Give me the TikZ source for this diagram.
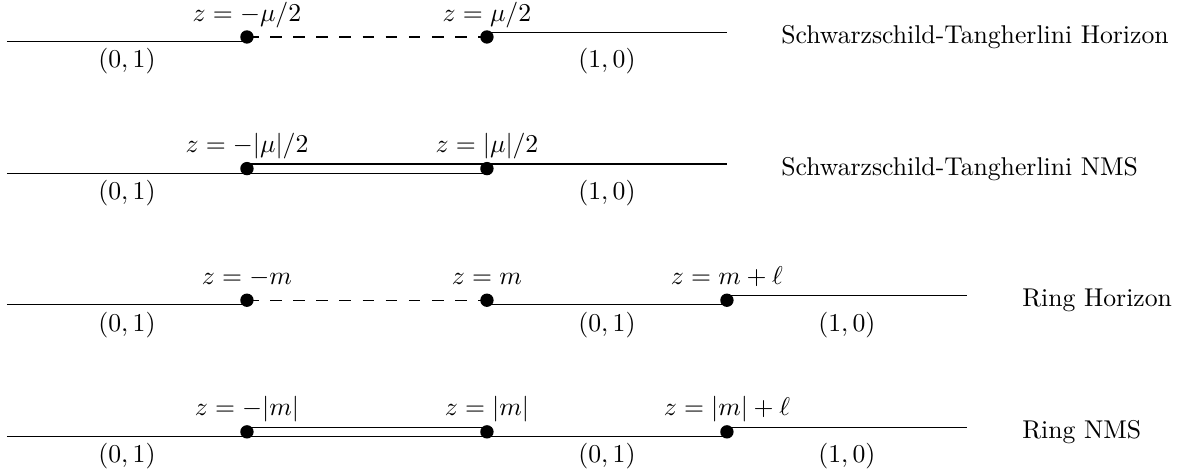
\documentclass[tikz,border=0pt]{standalone}
\usepackage{amsmath}
\usepackage{amssymb}
\usepackage{tikz}
\usetikzlibrary{positioning, calc}
\tikzset{
  rodline/.style={line width=0.5pt},
  horizonline/.style={line width=0.5pt, dash pattern=on 4.5pt off 4.5pt},
  dotpt/.style={circle, fill=black, inner sep=0pt, minimum size=5.2pt},
  zlabel/.style={anchor=base, yshift=6.2pt, inner sep=0pt},
  rodlabel/.style={anchor=base, yshift=-12pt, inner sep=0pt},
  casename/.style={anchor=west}
}
% rods sit a little below (0,1) or above (1,0) the axis
\newcommand{\lowrod}[2]{\draw[rodline] ([yshift=-1.8pt]#1) -- ([yshift=-1.8pt]#2);}
\newcommand{\uprod}[2]{\draw[rodline] ([yshift=1.8pt]#1) -- ([yshift=1.8pt]#2);}

\begin{document}
\begin{tikzpicture}[x=3.282cm, y=1.8cm]
    \useasboundingbox (-1.029,0.281) rectangle (3.892,-3.327);

    % ==========================================
    % 1. Schwarzschild-Tangherlini Horizon
    % ==========================================
    \coordinate (e1) at (-1,0);
    \coordinate (a1) at (0,0);
    \coordinate (b1) at (1,0);
    \coordinate (f1) at (2,0);
    \lowrod{e1}{a1}
    \draw[horizonline] (a1) -- (b1);
    \uprod{b1}{f1}
    \node[dotpt] (da1) at (a1) {};
    \node[dotpt] (db1) at (b1) {};
    \node[zlabel] (za1) at (a1) {$z=-\mu/2$};
    \node[zlabel] (zb1) at (b1) {$z=\mu/2$};
    \node[rodlabel] (ra1) at ($(e1)!0.5!(a1)$) {$(0,1)$};
    \node[rodlabel] (rb1) at ($(b1)!0.5!(f1)$) {$(1,0)$};
    \node[casename] (n1) at (2.189,0) {Schwarzschild-Tangherlini Horizon};

    % ==========================================
    % 2. Schwarzschild-Tangherlini NMS
    % ==========================================
    \coordinate (e2) at (-1,-1);
    \coordinate (a2) at (0,-1);
    \coordinate (b2) at (1,-1);
    \coordinate (f2) at (2,-1);
    \lowrod{e2}{b2}
    \uprod{a2}{f2}
    \node[dotpt] (da2) at (a2) {};
    \node[dotpt] (db2) at (b2) {};
    \node[zlabel] (za2) at (a2) {$z=-|\mu|/2$};
    \node[zlabel] (zb2) at (b2) {$z=|\mu|/2$};
    \node[rodlabel] (ra2) at ($(e2)!0.5!(a2)$) {$(0,1)$};
    \node[rodlabel] (rb2) at ($(b2)!0.5!(f2)$) {$(1,0)$};
    \node[casename] (n2) at (2.189,-1) {Schwarzschild-Tangherlini NMS};

    % ==========================================
    % 3. Ring Horizon
    % ==========================================
    \coordinate (e3) at (-1,-2);
    \coordinate (a3) at (0,-2);
    \coordinate (b3) at (1,-2);
    \coordinate (c3) at (2,-2);
    \coordinate (f3) at (3,-2);
    \lowrod{e3}{a3}
    \draw[horizonline] (a3) -- (b3);
    \lowrod{b3}{c3}
    \uprod{c3}{f3}
    \node[dotpt] (da3) at (a3) {};
    \node[dotpt] (db3) at (b3) {};
    \node[dotpt] (dc3) at (c3) {};
    \node[zlabel] (za3) at (a3) {$z=-m$};
    \node[zlabel] (zb3) at (b3) {$z=m$};
    \node[zlabel] (zc3) at (c3) {$z=m+\ell$};
    \node[rodlabel] (ra3) at ($(e3)!0.5!(a3)$) {$(0,1)$};
    \node[rodlabel] (rb3) at ($(b3)!0.5!(c3)$) {$(0,1)$};
    \node[rodlabel] (rc3) at ($(c3)!0.5!(f3)$) {$(1,0)$};
    \node[casename] (n3) at (3.193,-2) {Ring Horizon};

    % ==========================================
    % 4. Ring NMS
    % ==========================================
    \coordinate (e4) at (-1,-3);
    \coordinate (a4) at (0,-3);
    \coordinate (b4) at (1,-3);
    \coordinate (c4) at (2,-3);
    \coordinate (f4) at (3,-3);
    \lowrod{e4}{c4}
    \uprod{a4}{b4}
    \uprod{c4}{f4}
    \node[dotpt] (da4) at (a4) {};
    \node[dotpt] (db4) at (b4) {};
    \node[dotpt] (dc4) at (c4) {};
    \node[zlabel] (za4) at (a4) {$z=-|m|$};
    \node[zlabel] (zb4) at (b4) {$z=|m|$};
    \node[zlabel] (zc4) at (c4) {$z=|m|+\ell$};
    \node[rodlabel] (ra4) at ($(e4)!0.5!(a4)$) {$(0,1)$};
    \node[rodlabel] (rb4) at ($(b4)!0.5!(c4)$) {$(0,1)$};
    \node[rodlabel] (rc4) at ($(c4)!0.5!(f4)$) {$(1,0)$};
    \node[casename] (n4) at (3.193,-3) {Ring NMS};

\end{tikzpicture}
\end{document}
